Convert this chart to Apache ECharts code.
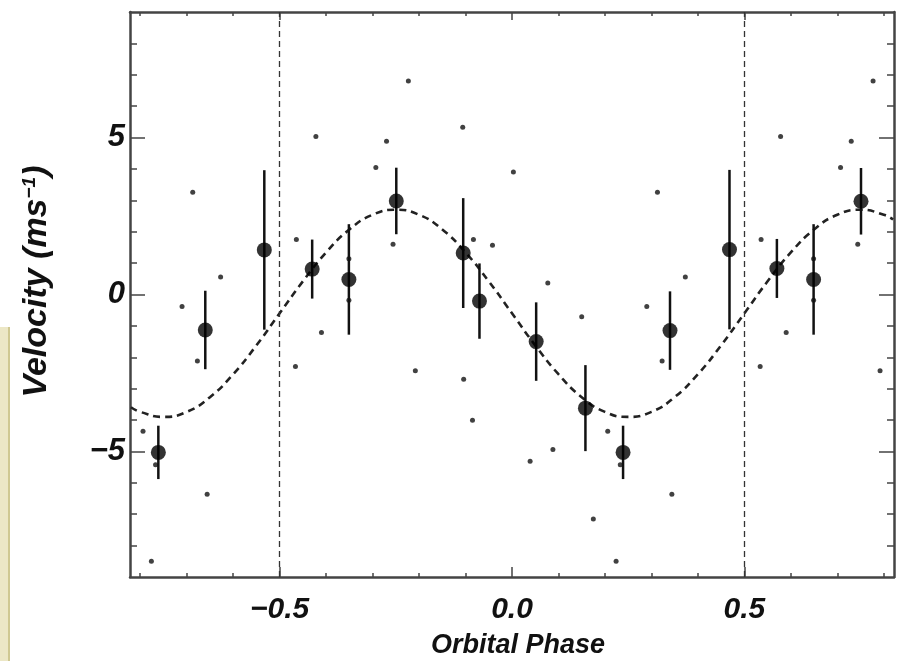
<!DOCTYPE html>
<html>
<head>
<meta charset="utf-8">
<script src="https://cdn.jsdelivr.net/npm/echarts@6/dist/echarts.min.js"></script>
<style>
  html, body { margin: 0; padding: 0; background: #fff; }
  #chart { width: 904px; height: 661px; }
</style>
</head>
<body>
<div id="chart"></div>
<script>
// binned velocities with error bars (phase, velocity, error)
const binPhase = [-0.761, -0.660, -0.533, -0.430, -0.351, -0.249, -0.105, -0.070, 0.052, 0.158,
                  0.239, 0.340, 0.468, 0.570, 0.649, 0.751];
const binVel   = [-5.03, -1.13, 1.42, 0.81, 0.48, 2.98, 1.32, -0.21, -1.50, -3.62,
                  -5.03, -1.15, 1.43, 0.83, 0.48, 2.97];
const binErr   = [0.85, 1.25, 2.54, 0.94, 1.76, 1.06, 1.75, 1.20, 1.25, 1.37,
                  0.85, 1.25, 2.54, 0.94, 1.76, 1.06];

// individual measurements (small dots)
const dotPhase = [-0.687, 0.313, -0.627, 0.373, -0.710, 0.290, -0.464, 0.536, -0.677, 0.323,
                  -0.466, 0.534, -0.794, 0.206, -0.767, 0.233, -0.656, 0.344, -0.776, 0.224,
                  -0.422, 0.578, -0.270, 0.730, -0.293, 0.707, -0.410, 0.590, -0.223, 0.777,
                  -0.256, 0.744, -0.351, 0.649, -0.351, 0.649, -0.208, 0.792,
                  -0.106, 0.003, -0.083, -0.042, 0.077, 0.150, -0.104, -0.085, 0.039, 0.088, 0.175];
const dotVel   = [3.26, 3.26, 0.56, 0.56, -0.38, -0.38, 1.75, 1.75, -2.12, -2.12,
                  -2.29, -2.29, -4.36, -4.36, -5.42, -5.42, -6.36, -6.36, -8.50, -8.50,
                  5.03, 5.03, 4.88, 4.88, 4.05, 4.05, -1.21, -1.21, 6.80, 6.80,
                  1.60, 1.60, -0.18, -0.18, 1.14, 1.14, -2.43, -2.43,
                  5.33, 3.90, 1.75, 1.57, 0.37, -0.71, -2.70, -4.01, -5.31, -4.94, -7.15];

// fitted orbit curve
const curvePhase = [-0.82, -0.80, -0.75, -0.70, -0.65, -0.60, -0.55, -0.50, -0.45, -0.40, -0.35,
                    -0.30, -0.25, -0.20, -0.15, -0.10, -0.05, 0.00, 0.05, 0.10, 0.15, 0.20,
                    0.25, 0.30, 0.35, 0.40, 0.45, 0.50, 0.55, 0.60, 0.65, 0.70, 0.75, 0.80, 0.82];
const curveVel   = [-3.59, -3.74, -3.90, -3.74, -3.27, -2.54, -1.62, -0.60, 0.42, 1.34, 2.07,
                    2.54, 2.70, 2.54, 2.07, 1.34, 0.42, -0.60, -1.62, -2.54, -3.27, -3.74,
                    -3.90, -3.74, -3.27, -2.54, -1.62, -0.60, 0.42, 1.34, 2.07, 2.54, 2.70, 2.54, 2.39];

// ticks
const xMajor = [-0.5, 0, 0.5];
const xMinor = [-0.8, -0.7, -0.6, -0.5, -0.4, -0.3, -0.2, -0.1, 0, 0.1, 0.2, 0.3, 0.4, 0.5, 0.6, 0.7, 0.8];
const yMajor = [-5, 0, 5];
const yMinor = [-8, -7, -6, -5, -4, -3, -2, -1, 0, 1, 2, 3, 4, 5, 6, 7, 8];
const phaseLines = [-0.5, 0.5];

const chart = echarts.init(document.getElementById('chart'));

const FONT = "'Liberation Sans', Arial, sans-serif";
const AXIS = '#444';
const fmt = v => (v < 0 ? '\u2212' : '') + Math.abs(v).toFixed(1);
const fmtY = v => (v < 0 ? '\u2212' : '') + Math.abs(v);

function xAxis(pos, ticks, len, withLine, withLabel) {
  return {
    type: 'value', position: pos, min: -0.822, max: 0.822,
    splitLine: { show: false },
    axisLine: { show: withLine, onZero: false, lineStyle: { color: AXIS, width: 2.5 } },
    axisTick: { show: true, inside: true, length: len, customValues: ticks,
                lineStyle: { color: AXIS, width: 1.5 } },
    axisLabel: withLabel ? {
      show: true, customValues: xMajor, formatter: fmt, margin: 18,
      fontFamily: FONT, fontSize: 30, fontWeight: 'bold', fontStyle: 'italic', color: '#111'
    } : { show: false },
    name: withLabel ? 'Orbital Phase' : '',
    nameLocation: 'middle', nameGap: 55,
    nameTextStyle: { fontFamily: FONT, fontSize: 27, fontWeight: 'bold', fontStyle: 'italic', color: '#111',
                     padding: [0, 0, 0, 12] }
  };
}

function yAxis(pos, ticks, len, withLine, withLabel) {
  return {
    type: 'value', position: pos, min: -9, max: 9,
    splitLine: { show: false },
    axisLine: { show: withLine, onZero: false, lineStyle: { color: AXIS, width: 2.5 } },
    axisTick: { show: true, inside: true, length: len, customValues: ticks,
                lineStyle: { color: AXIS, width: 1.5 } },
    axisLabel: withLabel ? {
      show: true, customValues: yMajor, formatter: fmtY, margin: 5,
      fontFamily: FONT, fontSize: 31, fontWeight: 'bold', fontStyle: 'italic', color: '#111'
    } : { show: false },
    name: withLabel ? '{a|Velocity (ms}{b|\u22121}{a|)}' : '',
    nameLocation: 'middle', nameGap: 76, nameRotate: 90,
    nameTextStyle: {
      fontFamily: FONT, fontSize: 34, fontWeight: 'bold', fontStyle: 'italic', color: '#111',
      padding: [0, 0, 0, 26],
      rich: {
        a: { fontFamily: FONT, fontSize: 34, fontWeight: 'bold', fontStyle: 'italic', color: '#111' },
        b: { fontFamily: FONT, fontSize: 19, fontWeight: 'bold', fontStyle: 'italic', color: '#111',
             verticalAlign: 'top' }
      }
    }
  };
}

const option = {
  backgroundColor: '#fff',
  animation: false,
  grid: { left: 130, right: 10, top: 12, bottom: 84, outerBoundsMode: 'none' },
  xAxis: [
    xAxis('bottom', xMajor, 10, true, true),
    xAxis('bottom', xMinor, 4, false, false),
    xAxis('top', xMajor, 8, true, false),
    xAxis('top', xMinor, 4, false, false)
  ],
  yAxis: [
    yAxis('left', yMajor, 15, true, true),
    yAxis('left', yMinor, 7, false, false),
    yAxis('right', yMajor, 15, true, false),
    yAxis('right', yMinor, 7, false, false)
  ],
  graphic: [
    { type: 'rect', left: 0, top: 327, shape: { width: 8, height: 334 }, style: { fill: '#ece7c6' } },
    { type: 'rect', left: 8, top: 327, shape: { width: 2, height: 334 }, style: { fill: '#cfc892' } }
  ],
  series: [
    {
      type: 'line', xAxisIndex: 0, yAxisIndex: 0,
      data: curvePhase.map((p, i) => [p, curveVel[i]]),
      smooth: true, symbol: 'none', silent: true,
      lineStyle: { color: '#222', width: 2.6, type: [7, 5] },
      markLine: {
        silent: true, symbol: 'none', label: { show: false },
        lineStyle: { color: '#333', width: 1.3, type: [6, 4] },
        data: phaseLines.map(p => ({ xAxis: p }))
      },
      z: 2
    },
    {
      type: 'scatter', xAxisIndex: 0, yAxisIndex: 0,
      data: dotPhase.map((p, i) => [p, dotVel[i]]),
      symbolSize: 5, itemStyle: { color: '#111' }, z: 3
    },
    {
      type: 'custom', xAxisIndex: 0, yAxisIndex: 0,
      data: binPhase.map((p, i) => [p, binVel[i] - binErr[i], binVel[i] + binErr[i]]),
      encode: { x: 0, y: [1, 2] },
      renderItem: function (params, api) {
        const lo = api.coord([api.value(0), api.value(1)]);
        const hi = api.coord([api.value(0), api.value(2)]);
        return {
          type: 'line',
          shape: { x1: lo[0], y1: lo[1], x2: hi[0], y2: hi[1] },
          style: { stroke: '#111', lineWidth: 2.5 }
        };
      },
      z: 4
    },
    {
      type: 'scatter', xAxisIndex: 0, yAxisIndex: 0,
      data: binPhase.map((p, i) => [p, binVel[i]]),
      symbolSize: 15, itemStyle: { color: '#000' }, z: 5
    }
  ]
};

chart.setOption(option);
</script>
</body>
</html>
